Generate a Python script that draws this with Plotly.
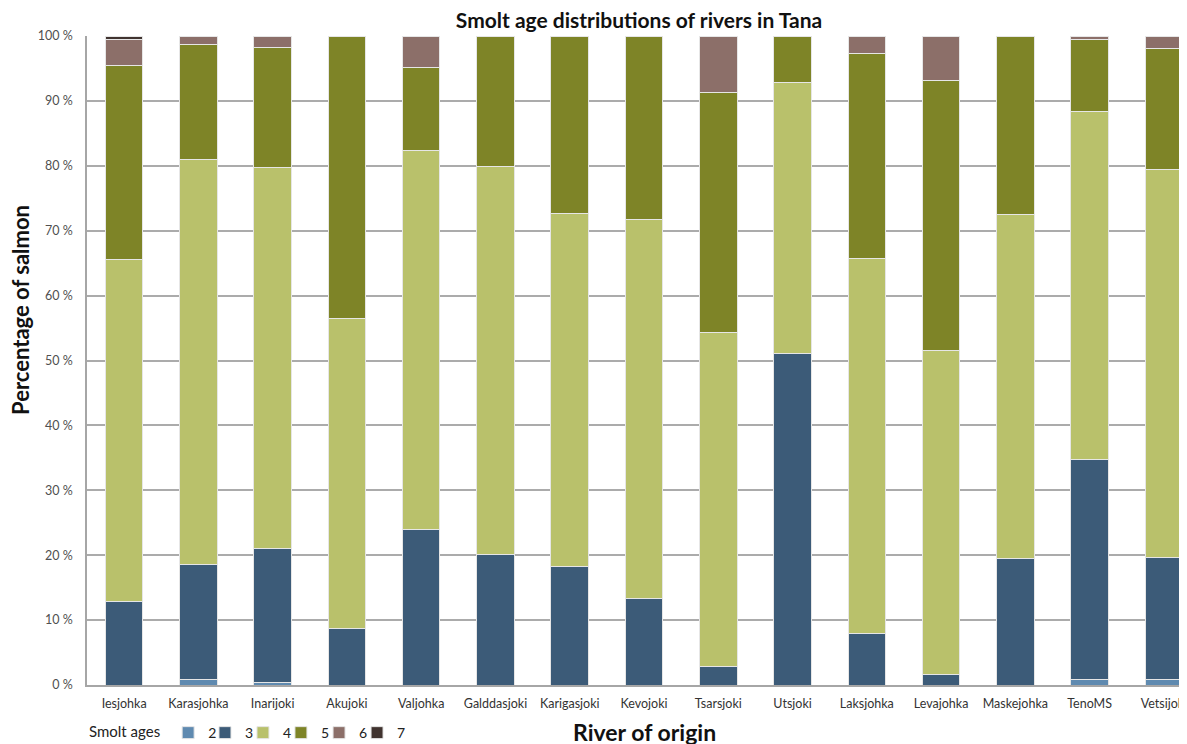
import plotly.graph_objects as go

rivers = ["Iesjohka", "Karasjohka", "Inarijoki", "Akujoki", "Valjohka", "Galddasjoki",
          "Karigasjoki", "Kevojoki", "Tsarsjoki", "Utsjoki", "Laksjohka", "Levajohka",
          "Maskejohka", "TenoMS", "Vetsijoki"]

age2 = [0.0, 0.8, 0.4, 0.0, 0.0, 0.0, 0.0, 0.0, 0.0, 0.0, 0.0, 0.0, 0.0, 0.9, 0.8]
age3 = [12.9, 17.8, 20.7, 8.7, 24.0, 20.1, 18.2, 13.3, 2.9, 51.1, 7.9, 1.6, 19.5, 33.9, 18.8]
age4 = [52.7, 62.3, 58.7, 47.8, 58.4, 59.8, 54.5, 58.5, 51.4, 41.8, 57.8, 50.0, 53.0, 53.6, 59.9]
age5 = [29.8, 17.8, 18.4, 43.5, 12.7, 20.1, 27.3, 28.2, 37.0, 7.1, 31.6, 41.5, 27.5, 11.1, 18.5]
age6 = [4.1, 1.3, 1.8, 0.0, 4.9, 0.0, 0.0, 0.0, 8.7, 0.0, 2.7, 6.9, 0.0, 0.5, 2.0]
age7 = [0.5, 0.0, 0.0, 0.0, 0.0, 0.0, 0.0, 0.0, 0.0, 0.0, 0.0, 0.0, 0.0, 0.0, 0.0]

age_names = ["2", "3", "4", "5", "6", "7"]
age_values = [age2, age3, age4, age5, age6, age7]
age_colors = ["#5f8ab0", "#3c5b78", "#b9c16b", "#7e8427", "#8c6f69", "#40332f"]

y_ticks = [0, 10, 20, 30, 40, 50, 60, 70, 80, 90, 100]
y_tick_text = [f"{v} %" for v in y_ticks]

font_family = "Lato, 'Open Sans', sans-serif"

legend_ids = ["legend", "legend2", "legend3", "legend4", "legend5", "legend6"]
legend_x = [0.0, 0.1059, 0.1400, 0.1741, 0.2083, 0.2424]

fig = go.Figure()
for name, vals, col, lid in zip(age_names, age_values, age_colors, legend_ids):
    fig.add_trace(go.Bar(
        x=rivers, y=vals, name=name, legend=lid, showlegend=True,
        marker=dict(color=col, line=dict(color="#e6e6e6", width=1)),
        width=0.505,
    ))

legend_common = dict(
    orientation="h", y=-0.074, yanchor="middle", xanchor="left",
    font=dict(size=14, color="#222222"), bgcolor="rgba(0,0,0,0)",
    visible=True,
)
layout_legends = {}
for i, (lid, lx) in enumerate(zip(legend_ids, legend_x)):
    d = dict(legend_common, x=lx)
    if i == 0:
        d["title"] = dict(text="Smolt ages", side="left",
                          font=dict(size=15, color="#222222"))
    layout_legends[lid] = d

fig.update_layout(
    barmode="stack",
    showlegend=True,
    width=1195, height=744,
    margin=dict(l=79, r=2, t=28, b=67),
    paper_bgcolor="white", plot_bgcolor="white",
    font=dict(family=font_family, color="#404040"),
    title=dict(text="<b>Smolt age distributions of rivers in Tana</b>",
               xref="paper", x=0.4955, xanchor="center",
               yref="container", y=0.983, yanchor="middle",
               font=dict(size=21, color="#111111", family=font_family)),
    annotations=[
        dict(text="<b>River of origin</b>", xref="paper", yref="paper",
             x=0.5, y=-0.0724, xanchor="center", yanchor="middle",
             showarrow=False, font=dict(size=23, color="#111111", family=font_family)),
        dict(text="<b>Percentage of salmon</b>", xref="paper", yref="paper",
             x=-0.0592, y=0.578, xanchor="center", yanchor="middle", textangle=-90,
             showarrow=False, font=dict(size=22, color="#111111", family=font_family)),
    ],
    **layout_legends,
)

fig.update_xaxes(
    range=[-0.5, 14.5],
    showline=True, linecolor="#a6a6a6", linewidth=1.5,
    showgrid=False, ticks="",
    tickfont=dict(size=12.5, color="#333333"),
    ticklabelstandoff=6,
)
fig.update_yaxes(
    range=[0, 100],
    tickmode="array", tickvals=y_ticks, ticktext=y_tick_text,
    showline=True, linecolor="#a6a6a6", linewidth=1.5,
    showgrid=True, gridcolor="#ababab", gridwidth=1.5,
    zeroline=False, ticks="",
    tickfont=dict(size=12.5, color="#505050"),
    ticklabelstandoff=10,
)

fig.write_html("out.html")
